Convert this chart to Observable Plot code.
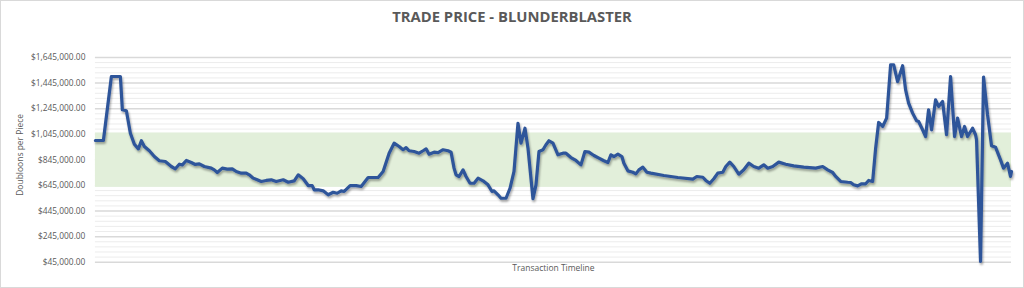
<!DOCTYPE html>
<html>
<head>
<meta charset="utf-8">
<script src="https://cdn.jsdelivr.net/npm/d3@7"></script>
<script src="https://cdn.jsdelivr.net/npm/@observablehq/plot@0.6"></script>
<style>
  html, body { margin: 0; padding: 0; background: #fff; }
  #wrap { position: relative; width: 1024px; height: 288px; box-sizing: border-box; border: 1px solid #d9d9d9; overflow: hidden; }
  #title { position: absolute; left: 0; right: 0; top: 5px; text-align: center; font-family: "Open Sans", sans-serif; font-weight: 700; font-size: 14.8px; color: #595959; }
  #chart { position: absolute; left: -1px; top: -1px; }
</style>
</head>
<body>
<div id="wrap">
  <div id="title">TRADE PRICE - BLUNDERBLASTER</div>
  <div id="chart"></div>
</div>
<script>
const transaction = [0,8,16,25,27,31,35,39,43,46,49,54,59,64,70,76,80,84,87,91,96,100,104,109,116,119,122,127,132,137,141,146,151,154,158,162,166,171,176,181,188,193,199,203,208,213,217,219,223,228,233,238,242,246,249,255,261,266,273,278,283,288,294,299,304,308,311,314,319,324,328,331,334,339,343,348,353,356,359,361,364,368,371,375,379,383,388,393,397,399,403,406,411,415,419,423,426,430,433,438,441,444,448,451,454,458,463,468,471,476,481,486,490,494,499,504,509,513,516,519,523,527,529,533,538,541,544,548,552,556,569,583,598,602,608,611,615,619,623,628,631,635,639,644,649,654,659,664,669,673,678,684,691,699,709,721,728,733,738,741,746,753,756,759,763,767,771,774,778,781,784,788,792,796,799,803,808,811,814,818,822,824,828,831,834,837,841,844,848,852,856,860,863,867,870,873,878,881,882,886,889,893,897,901,906,909,913,916,917];
const price = [996000,996000,1496000,1496000,1236000,1228000,1053000,967000,931000,994000,949000,916000,871000,838000,832000,793000,775000,811000,806000,840000,824000,809000,814000,793000,780000,767000,746000,780000,772000,775000,754000,741000,741000,728000,702000,689000,676000,684000,689000,676000,689000,670000,681000,728000,697000,644000,644000,611000,611000,603000,572000,592000,584000,603000,598000,644000,644000,637000,707000,707000,707000,754000,897000,975000,949000,924000,941000,916000,910000,897000,916000,931000,889000,905000,902000,924000,916000,905000,780000,728000,715000,767000,715000,662000,662000,702000,681000,650000,598000,603000,572000,545000,545000,623000,754000,1131000,975000,1092000,936000,541000,650000,910000,924000,963000,994000,975000,884000,897000,897000,863000,840000,806000,910000,905000,879000,858000,838000,824000,884000,871000,889000,871000,819000,759000,748000,735000,767000,788000,748000,741000,723000,707000,694000,715000,709000,684000,662000,697000,741000,748000,793000,827000,793000,733000,767000,819000,793000,780000,806000,780000,793000,827000,811000,798000,788000,780000,793000,767000,746000,715000,676000,670000,668000,650000,642000,658000,658000,684000,676000,936000,1137000,1106000,1171000,1588000,1588000,1457000,1580000,1392000,1288000,1210000,1150000,1144000,1080000,1027000,1236000,1080000,1314000,1262000,1301000,1041000,1496000,1027000,1171000,1027000,1106000,1027000,1092000,1041000,1002000,52000,1492000,1197000,955000,944000,845000,780000,819000,715000,754000];
const bandLow = [630000];
const bandHigh = [1055000];
const yTicks = [45000,245000,445000,645000,845000,1045000,1245000,1445000,1645000];
const yMinorTicks = d3.range(45000, 1645001, 40000).filter(v => !yTicks.includes(v));

const data = transaction.map((t, i) => ({t, price: price[i]}));
const fmt = v => "$" + d3.format(",.2f")(v);

const chart = Plot.plot({
  width: 1024,
  height: 288,
  marginLeft: 95,
  marginRight: 12,
  marginTop: 57,
  marginBottom: 26,
  style: {fontFamily: "Open Sans, sans-serif", fontSize: "9px", color: "#595959", background: "transparent"},
  x: {domain: [d3.min(transaction), d3.max(transaction)], axis: null},
  y: {domain: [yTicks[0], yTicks[yTicks.length - 1]], axis: null},
  marks: [
    Plot.ruleY(yMinorTicks, {stroke: "#ececec", strokeWidth: 1}),
    Plot.ruleY(yTicks, {stroke: "#d9d9d9", strokeWidth: 1.5}),
    Plot.rect(bandLow, {x1: () => d3.min(transaction), x2: () => d3.max(transaction), y1: (d, i) => bandLow[i], y2: (d, i) => bandHigh[i], fill: "#e2efda"}),
    Plot.text(yTicks, {y: d => d, frameAnchor: "left", textAnchor: "end", dx: -10, text: fmt, fill: "#595959", fontSize: 8.4}),
    Plot.text(["Doubloons per Piece"], {frameAnchor: "left", textAnchor: "middle", rotate: -90, dx: -75, dy: -5, fill: "#595959", fontSize: 8.5}),
    Plot.text(["Transaction Timeline"], {frameAnchor: "bottom", dy: 9, fill: "#595959", fontSize: 8.5}),
    Plot.line(data, {x: "t", y: "price", stroke: "#2f559a", strokeWidth: 3.2, strokeLinejoin: "round", strokeLinecap: "round"})
  ]
});

document.getElementById("chart").appendChild(chart);

// drop shadow on the line like the original
const svg = d3.select(chart);
const defs = svg.insert("defs", ":first-child");
defs.append("filter").attr("id", "shadow").attr("x", "-5%").attr("y", "-5%").attr("width", "110%").attr("height", "120%")
  .append("feDropShadow").attr("dx", 1).attr("dy", 2).attr("stdDeviation", 1.2).attr("flood-color", "#000").attr("flood-opacity", 0.35);
svg.selectAll("g[aria-label='line'] path").attr("filter", "url(#shadow)");
</script>
</body>
</html>
